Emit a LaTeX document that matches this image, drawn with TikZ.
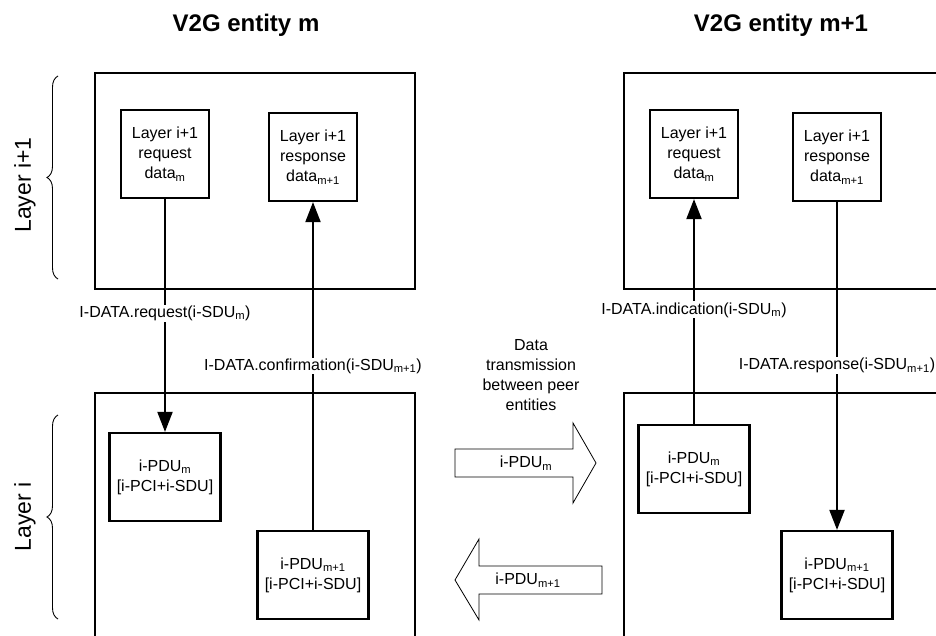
\documentclass[tikz,border=0pt]{standalone}
\usepackage{fontspec}
\setmainfont{Liberation Sans}
\usetikzlibrary{arrows.meta,decorations.pathreplacing}
\newcommand{\subs}[1]{\textsubscript{#1}}

\begin{document}
\begin{tikzpicture}[x=1pt,y=-1pt,
  every node/.style={font=\fontsize{16}{20}\selectfont},
  title/.style={font=\bfseries\fontsize{24}{28}\selectfont},
  layername/.style={rotate=90,font=\fontsize{23}{28}\selectfont},
  layerbox/.style={draw,line width=2.5pt,inner sep=0pt,minimum width=320pt},
  databox/.style={draw,line width=2.2pt,align=center,inner sep=0pt,minimum width=88pt,minimum height=88pt},
  pdubox/.style={draw,line width=2.2pt,align=center,inner sep=0pt,minimum width=111pt,minimum height=88pt},
  prim/.style={line width=2pt,-{Triangle[length=20pt,width=15pt]}},
  lbl/.style={fill=white,inner sep=1pt},
  peerarrow/.style={draw,fill=white,line width=0.8pt},
  layerbrace/.style={decorate,decoration={brace,amplitude=11pt},line width=0.9pt}
]
\useasboundingbox (0,0) rectangle (936,636);

% titles
\node[title] (titlem) at (246,25) {V2G entity m};
\node[title] (titlen) at (781,25) {V2G entity m+1};

% layers
\draw[layerbrace] (58,279) -- (58,76);
\node[layername] (upperlayer) at (25,185) {Layer i+1};
\draw[layerbrace] (58,619) -- (58,415);
\node[layername] (lowerlayer) at (25,517) {Layer i};

\node[layerbox,minimum height=216pt] (upm) at (255,181) {};
\node[layerbox,minimum height=216pt] (upn) at (784,181) {};
\node[layerbox,minimum height=300pt] (lowm) at (255,543) {};
\node[layerbox,minimum height=300pt] (lown) at (784,543) {};

% entity m
\node[databox] (reqm) at (165,154) {Layer i+1\\request\\data\subs{m}};
\node[databox] (resm) at (313,157) {Layer i+1\\response\\data\subs{m+1}};
\node[pdubox] (pdum) at (165,477) {i-PDU\subs{m}\\{[}i-PCI+i-SDU{]}};
\node[pdubox] (pdum1) at (313,575) {i-PDU\subs{m+1}\\{[}i-PCI+i-SDU{]}};

% entity m+1
\node[databox] (reqn) at (694,154) {Layer i+1\\request\\data\subs{m}};
\node[databox] (resn) at (837,157) {Layer i+1\\response\\data\subs{m+1}};
\node[pdubox] (pdun) at (694,469) {i-PDU\subs{m}\\{[}i-PCI+i-SDU{]}};
\node[pdubox] (pdun1) at (837,575) {i-PDU\subs{m+1}\\{[}i-PCI+i-SDU{]}};

% primitives
\draw[prim] (reqm.south) -- (pdum.north) node[lbl,pos=0.49] {I-DATA.request(i-SDU\subs{m})};
\draw[prim] (pdum1.north) -- (resm.south) node[lbl,pos=0.5] {I-DATA.confirmation(i-SDU\subs{m+1})};
\draw[prim] (pdun.north) -- (reqn.south) node[lbl,pos=0.507] {I-DATA.indication(i-SDU\subs{m})};
\draw[prim] (resn.south) -- (pdun1.north) node[lbl,pos=0.498] {I-DATA.response(i-SDU\subs{m+1})};

% peer transmission
\node[align=center] (peertext) at (531,375) {Data\\transmission\\between peer\\entities};
\path[peerarrow] (455,449) -- (573,449) -- (573,423) -- (596,463) -- (573,503) -- (573,477) -- (455,477) -- cycle;
\node (pdusend) at (526,463) {i-PDU\subs{m}};
\path[peerarrow] (602,566) -- (479,566) -- (479,539) -- (455,580) -- (479,620) -- (479,594) -- (602,594) -- cycle;
\node (pdureturn) at (528,580) {i-PDU\subs{m+1}};
\end{tikzpicture}
\end{document}
